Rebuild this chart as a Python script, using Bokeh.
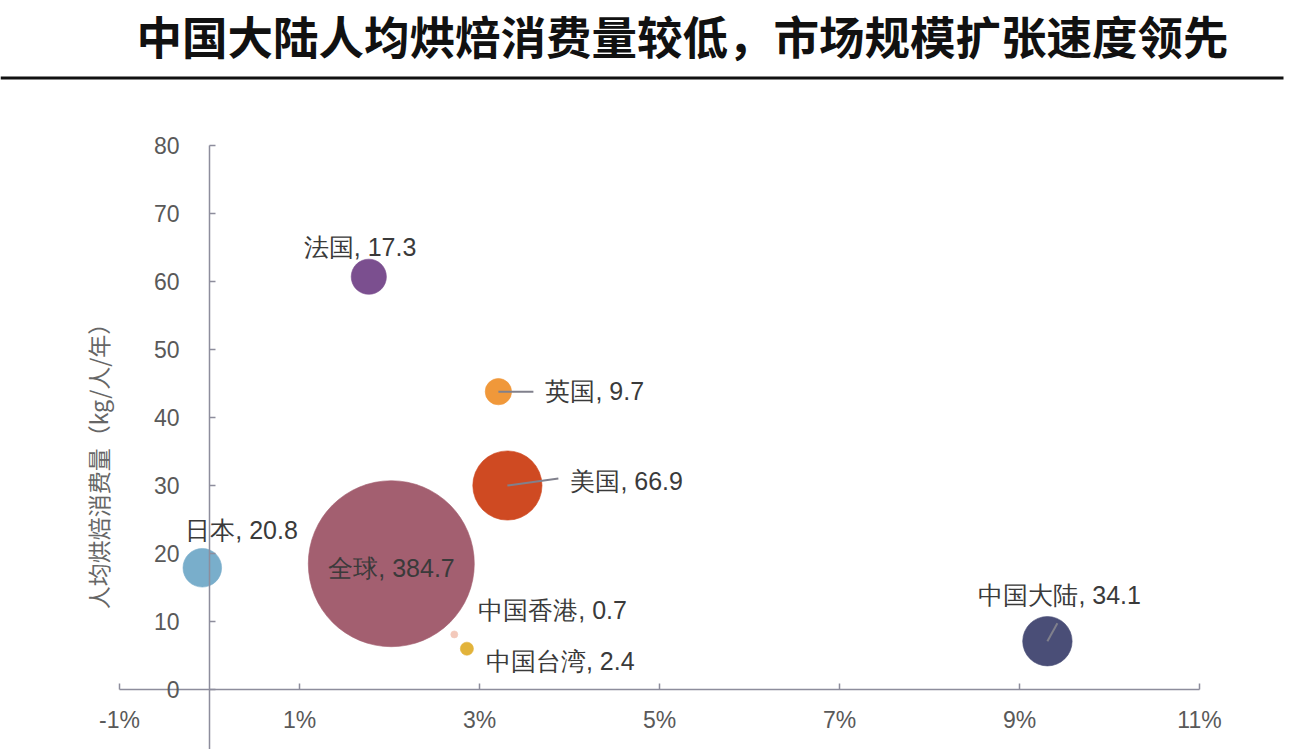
import math
from bokeh.plotting import figure
from bokeh.models import (ColumnDataSource, FixedTicker, PrintfTickFormatter, LinearAxis,
                          Range1d, Label, BoxAnnotation)
from bokeh.core.properties import value
from bokeh.embed import file_html
from bokeh.resources import INLINE

# ---------------- data ----------------
names = ["全球", "美国", "中国大陆", "日本", "法国", "英国", "中国台湾", "中国香港"]
market_size = [384.7, 66.9, 34.1, 20.8, 17.3, 9.7, 2.4, 0.7]          # bubble size
growth_rate = [2.02, 3.31, 9.31, -0.08, 1.77, 3.21, 2.86, 2.72]        # x, %
per_capita = [18.5, 30.0, 7.1, 17.9, 60.7, 43.8, 6.0, 8.1]             # y, kg/人/年
x_ticks = [-1, 1, 3, 5, 7, 9, 11]
y_ticks = [-10, 0, 10, 20, 30, 40, 50, 60, 70, 80]

title_text = "中国大陆人均烘焙消费量较低，市场规模扩张速度领先"
y_title = "人均烘焙消费量（kg/人/年）"

# ---------------- styles ----------------
colors = ["#a35f70", "#cf4a22", "#4a4e77", "#79aecb", "#7b4f8f", "#f0983a", "#e2b33a", "#f3c9bb"]
label_dx = [-63, 63, -69, -17, -65, 47, 19, 24]     # px offsets of labels from bubble centre
label_dy = [4, -5, -46, -38, -30, -1, 12, -24]
leader = {"英国": (35, 0), "美国": (51, -7), "中国大陆": (10, -18)}   # px leader ends

W, H = 1296, 749
PX_PER_X = 90.0      # px per 1 %
PX_PER_Y = 6.8       # px per unit
X0_PX = 209.0        # figure px of x = 0
Y0_PX = 689.0        # figure px (from top) of y = 0
MAX_D = 166.0        # diameter of largest bubble

x_start = -X0_PX / PX_PER_X
x_end = (W - X0_PX) / PX_PER_X
y_end = Y0_PX / PX_PER_Y
y_start = -(H - Y0_PX) / PX_PER_Y

sizes = [MAX_D * math.sqrt(v / max(market_size)) for v in market_size]
labels = [f"{n}, {v}" for n, v in zip(names, market_size)]

src = ColumnDataSource(dict(x=growth_rate, y=per_capita, size=sizes, color=colors,
                            label=labels, dx=label_dx, dy=label_dy))

p = figure(width=W, height=H, x_range=Range1d(x_start, x_end), y_range=Range1d(y_start, y_end),
           output_backend="svg", toolbar_location=None, x_axis_type=None, y_axis_type=None,
           min_border=0, outline_line_color=None, background_fill_color="white",
           border_fill_color="white")
p.xgrid.visible = False
p.ygrid.visible = False

axis_color = "#8d8d9c"
xaxis = LinearAxis(fixed_location=0, ticker=FixedTicker(ticks=x_ticks),
                   formatter=PrintfTickFormatter(format="%d%%"), bounds=(-1, 11))
yaxis = LinearAxis(fixed_location=0, ticker=FixedTicker(ticks=y_ticks), bounds=(-10, 80))
for ax in (xaxis, yaxis):
    ax.axis_line_color = axis_color
    ax.axis_line_width = 1.5
    ax.major_tick_line_color = axis_color
    ax.major_tick_line_width = 1.5
    ax.major_tick_in = 6
    ax.major_tick_out = 0
    ax.minor_tick_in = 0
    ax.minor_tick_out = 0
    ax.major_label_text_font = "Liberation Sans"
    ax.major_label_text_font_size = "23px"
    ax.major_label_text_color = "#595959"
xaxis.major_label_standoff = 17
yaxis.major_label_standoff = 30
p.add_layout(xaxis, "below")
p.add_layout(yaxis, "left")

# bubbles
p.scatter(x="x", y="y", size="size", fill_color="color", line_color="color",
          line_alpha=0.6, source=src)

# leader lines
li = [names.index(k) for k in leader]
lsrc = ColumnDataSource(dict(
    x0=[growth_rate[i] for i in li], y0=[per_capita[i] for i in li],
    x1=[growth_rate[i] + leader[names[i]][0] / PX_PER_X for i in li],
    y1=[per_capita[i] - leader[names[i]][1] / PX_PER_Y for i in li]))
p.segment(x0="x0", y0="y0", x1="x1", y1="y1", line_color="#80808c", line_width=2, source=lsrc)

# data labels
p.text(x="x", y="y", text="label", x_offset="dx", y_offset="dy", source=src,
       text_font=value("Liberation Sans"), text_font_size="25px", text_color="#3a3a3a",
       text_align="left", text_baseline="middle")

# title + rule
p.add_layout(Label(x=(136 - X0_PX) / PX_PER_X, y=(Y0_PX - 34) / PX_PER_Y, text=title_text,
                   text_font="Noto Sans CJK SC", text_font_size="45.5px", text_font_style="bold",
                   text_color="#111111", text_align="left", text_baseline="middle"))
p.add_layout(BoxAnnotation(left=x_start, right=(1283 - X0_PX) / PX_PER_X,
                           top=(Y0_PX - 76) / PX_PER_Y, bottom=(Y0_PX - 79) / PX_PER_Y,
                           fill_color="#111111", fill_alpha=1.0, line_color=None))

# y-axis title
p.add_layout(Label(x=(97 - X0_PX) / PX_PER_X, y=(Y0_PX - 460) / PX_PER_Y, text=y_title,
                   angle=math.pi / 2, text_font="Noto Sans CJK SC", text_font_size="23px",
                   text_color="#666666", text_align="center", text_baseline="middle"))

open("out.html", "w").write(file_html(p, INLINE))
